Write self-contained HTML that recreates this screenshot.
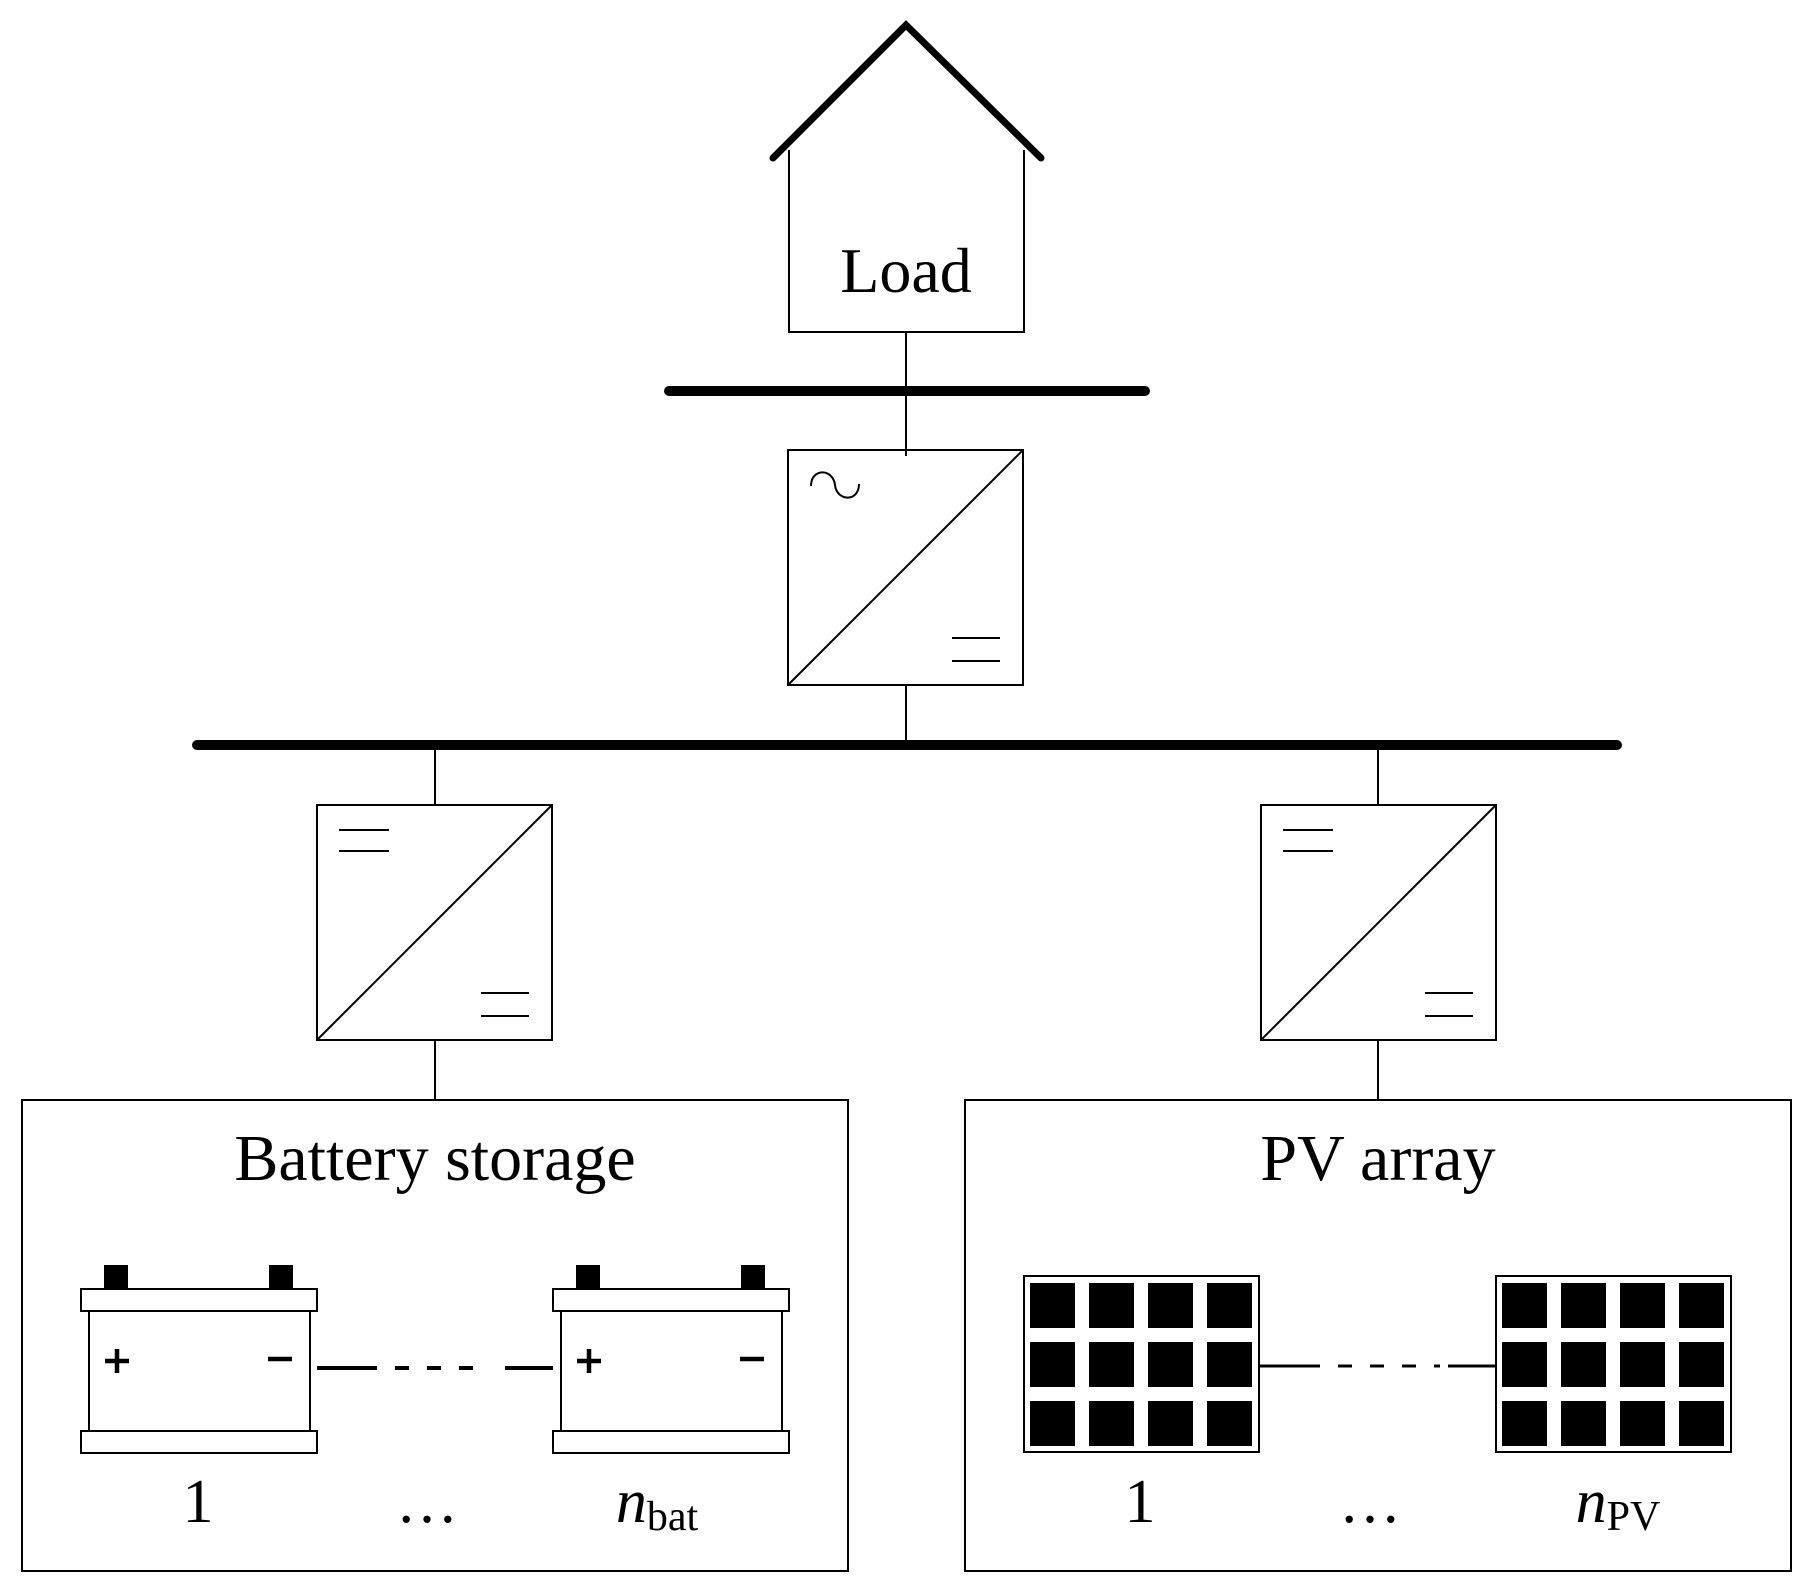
<!DOCTYPE html>
<html><head><style>body{margin:0;background:#fff}svg{display:block}</style></head><body>
<svg width="1806" height="1596" viewBox="0 0 1806 1596" xmlns="http://www.w3.org/2000/svg" font-family="'Liberation Serif', serif">
<g fill="none" stroke="#000" stroke-width="2">
<polyline points="789,150 789,332 1024,332 1024,150"/>
<polyline points="773,158 906,25 1041,158" stroke-width="7" stroke-linecap="round"/>
<line x1="906" y1="332" x2="906" y2="456"/>
<line x1="669" y1="391" x2="1145" y2="391" stroke-width="10" stroke-linecap="round"/>
<rect x="788" y="450" width="235" height="235"/>
<line x1="788" y1="685" x2="1023" y2="450"/>
<path d="M811,486 C811,468 833,468 835,485 C837,502 859,502 859,484"/>
<line x1="952" y1="638" x2="1000" y2="638"/><line x1="952" y1="661" x2="1000" y2="661"/>
<line x1="906" y1="685" x2="906" y2="745"/>
<line x1="197" y1="745" x2="1617" y2="745" stroke-width="10" stroke-linecap="round"/>
<line x1="435" y1="745" x2="435" y2="805"/>
<rect x="317" y="805" width="235" height="235"/>
<line x1="317" y1="1040" x2="552" y2="805"/>
<line x1="339" y1="830" x2="389" y2="830"/><line x1="339" y1="851" x2="389" y2="851"/>
<line x1="481" y1="993" x2="529" y2="993"/><line x1="481" y1="1016" x2="529" y2="1016"/>
<line x1="435" y1="1040" x2="435" y2="1100"/>
<line x1="1378" y1="745" x2="1378" y2="805"/>
<rect x="1261" y="805" width="235" height="235"/>
<line x1="1261" y1="1040" x2="1496" y2="805"/>
<line x1="1283" y1="830" x2="1333" y2="830"/><line x1="1283" y1="851" x2="1333" y2="851"/>
<line x1="1425" y1="993" x2="1473" y2="993"/><line x1="1425" y1="1016" x2="1473" y2="1016"/>
<line x1="1378" y1="1040" x2="1378" y2="1100"/>
<rect x="22" y="1100" width="826" height="471"/>
<rect x="965" y="1100" width="826" height="471"/>
<rect x="81" y="1289" width="236" height="22"/><rect x="89" y="1311" width="221" height="120"/><rect x="81" y="1431" width="236" height="22"/>
<rect x="553" y="1289" width="236" height="22"/><rect x="561" y="1311" width="221" height="120"/><rect x="553" y="1431" width="236" height="22"/>
<line x1="317" y1="1368" x2="377" y2="1368" stroke-width="4"/>
<line x1="395" y1="1368" x2="490" y2="1368" stroke-width="4" stroke-dasharray="14,18"/>
<line x1="505" y1="1368" x2="553" y2="1368" stroke-width="4"/>
<g stroke-width="4.5"><line x1="105" y1="1361" x2="129" y2="1361"/><line x1="117" y1="1349" x2="117" y2="1373"/>
<line x1="268" y1="1359" x2="292" y2="1359"/>
<line x1="577" y1="1361" x2="601" y2="1361"/><line x1="589" y1="1349" x2="589" y2="1373"/>
<line x1="740" y1="1359" x2="764" y2="1359"/></g>
<rect x="1024" y="1276" width="235" height="176"/>
<rect x="1496" y="1276" width="235" height="176"/>
<line x1="1259" y1="1366" x2="1320" y2="1366" stroke-width="3"/>
<line x1="1338" y1="1366" x2="1440" y2="1366" stroke-width="3" stroke-dasharray="14,18"/>
<line x1="1448" y1="1366" x2="1496" y2="1366" stroke-width="3"/>
</g>
<g fill="#000">
<rect x="104" y="1265" width="24" height="24"/><rect x="269" y="1265" width="24" height="24"/>
<rect x="576" y="1265" width="24" height="24"/><rect x="741" y="1265" width="24" height="24"/>
</g>
<g fill="#000">
<rect x="1030" y="1283" width="45" height="45"/><rect x="1089" y="1283" width="45" height="45"/><rect x="1148" y="1283" width="45" height="45"/><rect x="1207" y="1283" width="45" height="45"/>
<rect x="1030" y="1342" width="45" height="45"/><rect x="1089" y="1342" width="45" height="45"/><rect x="1148" y="1342" width="45" height="45"/><rect x="1207" y="1342" width="45" height="45"/>
<rect x="1030" y="1401" width="45" height="45"/><rect x="1089" y="1401" width="45" height="45"/><rect x="1148" y="1401" width="45" height="45"/><rect x="1207" y="1401" width="45" height="45"/>
</g>
<g fill="#000" transform="translate(472,0)">
<rect x="1030" y="1283" width="45" height="45"/><rect x="1089" y="1283" width="45" height="45"/><rect x="1148" y="1283" width="45" height="45"/><rect x="1207" y="1283" width="45" height="45"/>
<rect x="1030" y="1342" width="45" height="45"/><rect x="1089" y="1342" width="45" height="45"/><rect x="1148" y="1342" width="45" height="45"/><rect x="1207" y="1342" width="45" height="45"/>
<rect x="1030" y="1401" width="45" height="45"/><rect x="1089" y="1401" width="45" height="45"/><rect x="1148" y="1401" width="45" height="45"/><rect x="1207" y="1401" width="45" height="45"/>
</g>
<g fill="#000" text-anchor="middle">
<text x="906" y="292" font-size="64">Load</text>
<text x="435" y="1180" font-size="66">Battery storage</text>
<text x="1378" y="1180" font-size="66">PV array</text>
<text x="198" y="1522" font-size="62">1</text>
<text x="427" y="1522" font-size="62">…</text>
<text x="657" y="1522" font-size="62"><tspan font-style="italic">n</tspan><tspan font-size="42" dy="8">bat</tspan></text>
<text x="1140" y="1522" font-size="62">1</text>
<text x="1370" y="1522" font-size="62">…</text>
<text x="1618" y="1522" font-size="62"><tspan font-style="italic">n</tspan><tspan font-size="42" dy="8">PV</tspan></text>
</g>
</svg>
</body></html>
